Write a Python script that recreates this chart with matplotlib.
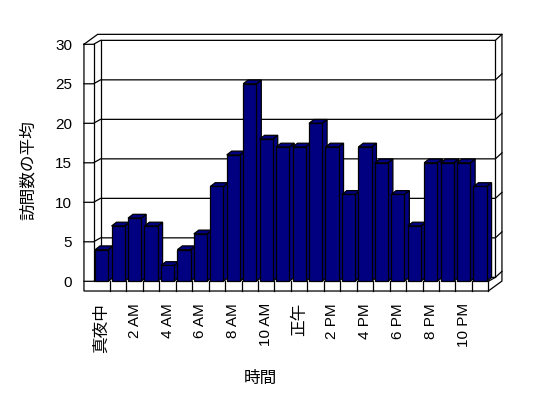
import matplotlib
matplotlib.use('Agg')
import matplotlib.pyplot as plt
from matplotlib.patches import Polygon

plt.rcParams['font.family'] = ['Liberation Sans', 'Noto Sans CJK JP']

# data
hours = list(range(24))
visits = [4, 7, 8, 7, 2, 4, 6, 12, 16, 25, 18, 17, 17, 20, 17, 11,
          17, 15, 11, 7, 15, 15, 15, 12]
tick_pos = list(range(0, 24, 2))
tick_labels = ['真夜中', '2 AM', '4 AM', '6 AM', '8 AM', '10 AM',
               '正午', '2 PM', '4 PM', '6 PM', '8 PM', '10 PM']
y_ticks = [0, 5, 10, 15, 20, 25, 30]

# 3d look (in data units)
wdx, wdy = 0.43, 0.5      # depth floor / back wall
bdx, bdy = 0.30, 0.48     # depth of the bars
tdx, tdy = 0.40, 0.76     # back wall thickness
lwx = 0.58                # left wall thickness
fy = 1.23                 # floor thickness
bar_w = 0.8
navy = '#000080'
lw = 0.9

fig = plt.figure(figsize=(5.48, 3.98), dpi=100, facecolor='white')
ax = fig.add_axes([93.5 / 548, 116.7 / 398, 394.8 / 548, 237 / 398])
ax.set_xlim(-0.5, 23.5)
ax.set_ylim(0, 30)
ax.patch.set_visible(False)
for s in ax.spines.values():
    s.set_visible(False)

x0, x1, ymax = -0.5, 23.5, y_ticks[-1]

def line(pts, z=1):
    xs, ys = zip(*pts)
    ax.plot(xs, ys, color='black', lw=lw, clip_on=False, zorder=z,
            solid_joinstyle='miter')

# outer outline of the box
line([(x0 - lwx, ymax), (x0 - lwx + wdx + tdx, ymax + wdy + tdy),
      (x1 + wdx + tdx, ymax + wdy + tdy), (x1 + wdx + tdx, -fy + wdy + tdy),
      (x1, -fy), (x0 - lwx, -fy), (x0 - lwx, ymax)])
# left wall
line([(x0, 0), (x0, ymax)])
line([(x0 + wdx, wdy), (x0 + wdx, ymax + wdy)])
# back wall right edge
line([(x1 + wdx, wdy), (x1 + wdx, ymax + wdy)])
# grid lines wrapped round the walls
for v in y_ticks:
    line([(x0 - lwx, v), (x0, v), (x0 + wdx, v + wdy), (x1 + wdx, v + wdy),
          (x1 + wdx + tdx, v + wdy + tdy)])
# floor
line([(x1, 0), (x1, -fy)])
line([(x1, 0), (x1 + wdx, wdy)])
for k in range(1, len(hours)):
    line([(x0 + k, -fy), (x0 + k, 0)])

# bars
for i, v in zip(hours, visits):
    xl, xr = i - bar_w / 2, i + bar_w / 2
    z = 2 + i * 0.01
    side = Polygon([(xr, 0), (xr + bdx, bdy), (xr + bdx, v + bdy), (xr, v)],
                   closed=True, fc=navy, ec='black', lw=lw, clip_on=False, zorder=z)
    top = Polygon([(xl, v), (xr, v), (xr + bdx, v + bdy), (xl + bdx, v + bdy)],
                  closed=True, fc=navy, ec='black', lw=lw, clip_on=False, zorder=z)
    front = Polygon([(xl, 0), (xr, 0), (xr, v), (xl, v)],
                    closed=True, fc=navy, ec='black', lw=lw, clip_on=False, zorder=z)
    ax.add_patch(side)
    ax.add_patch(top)
    ax.add_patch(front)

ax.set_yticks(y_ticks)
ax.set_yticklabels([str(v) for v in y_ticks])
ax.set_xticks(tick_pos)
ax.set_xticklabels(tick_labels, rotation=90)
ax.tick_params(axis='y', length=0, pad=15.5, labelsize=11)
ax.tick_params(axis='x', length=0, pad=15.8, labelsize=11)
for t in ax.get_xticklabels():
    if t.get_text() in ('真夜中', '正午'):
        t.set_fontsize(12)

fig.text(260 / 548, 1 - 378 / 398, '時間', ha='center', va='center', fontsize=12)
fig.text(28 / 548, 1 - 170 / 398, '訪問数の平均', ha='center', va='center',
         rotation=90, fontsize=12)

fig.savefig('out.png', dpi=100, facecolor='white')
